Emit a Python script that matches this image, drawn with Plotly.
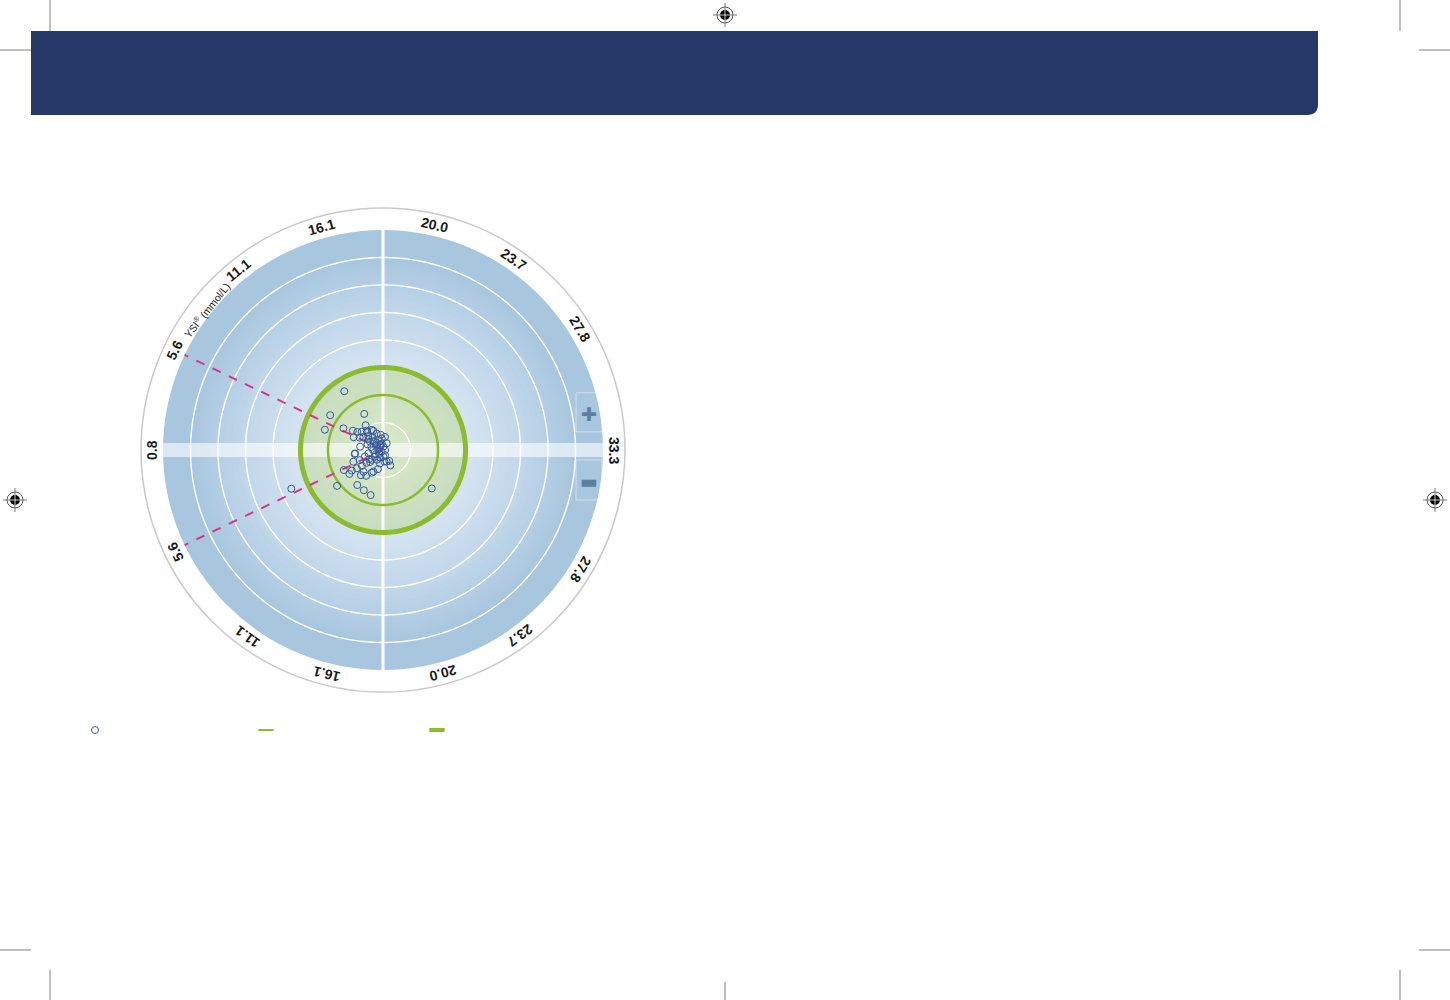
import numpy as np
import plotly.graph_objects as go

# dial labels (YSI reference, mmol/L) - upper half = positive bias, lower half = negative bias
upper_labels = ['0.8', '5.6', '11.1', '16.1', '20.0', '23.7', '27.8', '33.3']
upper_angles = [180, 154.4, 128.8, 105.4, 77, 55.7, 31.5, 0]
lower_labels = ['5.6', '11.1', '16.1', '20.0', '23.7', '27.8']
lower_angles = [-154, -126, -104, -75, -53.5, -31]

# rings (% bias)
white_rings = [5, 20, 25, 30, 35]
inner_limit = 10
outer_limit = 15
disc_edge = 40
hypo_angle = 154.4

# meter results: angle (deg) and radial bias (%)
pts_theta = [123.4, 146.6, 117.5, 160.8, 151.3, -157.1, -142, -126.3, -115.4, -105.3,
             -38.2, -172, -144.5, -152.9, -131.3, -123.2, -116.5, -105, -83.6, -60,
             -64.5, 96.6, 116.7, 131.6, 145, 156.4, 147.5, 139.3, 130.2, 119.5,
             110.7, 98.7, 146, 136.4, 129, 147.4, 134, 115, 101, 85,
             138, 0, -127, 171, -133, -140, -87, -138.5, -142, -143,
             -145, -146.5, -173, -158.5, -156.5, -72.5, -114, -132, 141.6, 180,
             81.4, 61, -68, -122, -102.7, -167, 171.8, 160, 150, -150,
             120, -110, 165, -160, 125, 143, -147, 137, -137, 152]
pts_r = [12.8, 11.5, 7.4, 11.2, 8.2, 18.1, 10.6, 7.9, 8.1, 8.5,
         11.3, 5.2, 7.5, 8.0, 6.1, 5.6, 4.6, 3.6, 2.1, 2.3,
         3.1, 2.1, 3.9, 4.3, 5.7, 5.8, 6.5, 5.1, 4.6, 4.2,
         3.2, 2.8, 4.3, 3.7, 3.0, 2.8, 2.1, 2.0, 1.2, 0.6,
         0.7, 0.4, 0.4, 0.9, 1.0, 1.9, 1.2, 2.7, 3.8, 4.8,
         5.8, 6.8, 5.1, 5.8, 4.6, 2.2, 4.3, 5.3, 1.5, 1.8,
         2.4, 1.4, 1.0, 2.1, 2.5, 2.7, 4.2, 3.0, 1.5, 1.5,
         1.0, 1.5, 2.2, 3.5, 5.5, 3.3, 3.0, 2.4, 3.2, 4.8]

W, H = 1450, 1000
GREEN = '#8cbb2e'
BLUE = '#34589e'


def px(x):
    return x / W


def py(y):
    return 1 - y / H


fig = go.Figure()

# radial blue gradient background: stacked discs, largest first so there are no seams
steps = np.arange(disc_edge, 0, -0.5)
stop_r = [0, 15, 25, 35, 40]
stop_c = np.array([[240, 246, 251], [214, 229, 241], [195, 216, 235], [168, 199, 223], [168, 199, 223]])
cols = []
for s in steps:
    c = [np.interp(s, stop_r, stop_c[:, k]) for k in range(3)]
    cols.append('rgb(%d,%d,%d)' % tuple(c))
fig.add_trace(go.Barpolar(theta=[0] * len(steps), r=steps, base=[0] * len(steps),
                          width=[360] * len(steps), marker=dict(color=cols, line=dict(width=0)),
                          hoverinfo='skip', showlegend=False))

# cross lines
fig.add_trace(go.Scatterpolar(r=[disc_edge, 0, disc_edge], theta=[90, 90, 270], mode='lines',
                              line=dict(color='white', width=3), hoverinfo='skip', showlegend=False))
fig.add_trace(go.Scatterpolar(r=[disc_edge, 0, disc_edge], theta=[180, 0, 0], mode='lines',
                              line=dict(color='rgba(255,255,255,0.6)', width=14), hoverinfo='skip',
                              showlegend=False))

# green zone fill
fig.add_trace(go.Barpolar(theta=[0], r=[outer_limit], base=[0], width=[360],
                          marker=dict(color='rgba(170,205,80,0.3)', line=dict(width=0)),
                          hoverinfo='skip', showlegend=False))

circle = np.arange(0, 361, 1)
for lv in white_rings:
    fig.add_trace(go.Scatterpolar(r=[lv] * len(circle), theta=circle, mode='lines',
                                  line=dict(color='white', width=1.4), hoverinfo='skip', showlegend=False))
fig.add_trace(go.Scatterpolar(r=[inner_limit] * len(circle), theta=circle, mode='lines',
                              line=dict(color=GREEN, width=2.5), hoverinfo='skip', showlegend=False))
fig.add_trace(go.Scatterpolar(r=[outer_limit] * len(circle), theta=circle, mode='lines',
                              line=dict(color=GREEN, width=5), hoverinfo='skip', showlegend=False))

# hypo threshold dashed lines
for a in [hypo_angle, -hypo_angle]:
    fig.add_trace(go.Scatterpolar(r=[0, disc_edge], theta=[a, a], mode='lines',
                                  line=dict(color='#d9338a', width=2, dash='dash'),
                                  hoverinfo='skip', showlegend=False))

# data points
fig.add_trace(go.Scatterpolar(r=pts_r, theta=pts_theta, mode='markers', name=' ',
                              marker=dict(symbol='circle-open', size=7, color=BLUE, line=dict(width=1))))

# legend-only entries for the limits
fig.add_trace(go.Scatterpolar(r=[None], theta=[None], mode='markers', name=' ',
                              marker=dict(symbol='line-ew', size=11, color=GREEN,
                                          line=dict(color=GREEN, width=2))))
fig.add_trace(go.Scatterpolar(r=[None], theta=[None], mode='markers', name=' ',
                              marker=dict(symbol='line-ew', size=11, color=GREEN,
                                          line=dict(color=GREEN, width=4))))

# dial labels as rotated annotations on a hidden cartesian overlay
annotations = []
lab_r = 42.0
for txt, a in list(zip(upper_labels, upper_angles)) + list(zip(lower_labels, lower_angles)):
    t = np.radians(a)
    ang = ((90 - a) + 180) % 360 - 180
    annotations.append(dict(x=lab_r * np.cos(t), y=lab_r * np.sin(t), xref='x', yref='y', text=txt,
                            showarrow=False, textangle=ang,
                            font=dict(family='Liberation Sans, Arial', size=14, color='#1a1a1a', weight='bold')))
t = np.radians(141.5)
annotations.append(dict(x=41.0 * np.cos(t), y=41.0 * np.sin(t), xref='x', yref='y',
                        text='YSI<sup>®</sup> (mmol/L)', showarrow=False, textangle=-51.5,
                        font=dict(family='Liberation Sans, Arial', size=10.5, color='#1a1a1a')))
annotations.append(dict(x=37.4, y=6.6, xref='x', yref='y', text='✚', showarrow=False,
                        font=dict(family='DejaVu Sans', size=19, color='#5b7f9c')))
annotations.append(dict(x=37.4, y=-5.6, xref='x', yref='y', text='▬', showarrow=False,
                        font=dict(family='DejaVu Sans', size=19, color='#5b7f9c')))

shapes = []
# faint boxes behind +/- signs
for y0, y1 in [(3.3, 10.4), (-9.1, -1.8)]:
    shapes.append(dict(type='rect', xref='x', yref='y', x0=35.1, x1=39.8, y0=y0, y1=y1,
                       line=dict(color='rgba(255,255,255,0.45)', width=1)))

# header bar with rounded bottom-right corner
x0, x1, yt, yb = px(31), px(1318), py(31), py(115)
rx, ry = 11 / W, 11 / H
shapes.append(dict(type='path', xref='paper', yref='paper', fillcolor='#253868', line=dict(width=0),
                   path=f'M {x0},{yt} L {x1},{yt} L {x1},{yb + ry} Q {x1},{yb} {x1 - rx},{yb} L {x0},{yb} Z'))

# crop marks
crop = [(50, 0, 50, 31), (0, 50, 31, 50), (1400, 0, 1400, 31), (1419, 50, 1450, 50),
        (0, 950, 31, 950), (50, 970, 50, 1000), (1419, 950, 1450, 950), (1400, 970, 1400, 1000),
        (725, 982, 725, 1000)]
for a, b, c, d in crop:
    shapes.append(dict(type='line', xref='paper', yref='paper', x0=px(a), y0=py(b), x1=px(c), y1=py(d),
                       line=dict(color='#aaaaaa', width=1.5)))

# registration marks
for cx, cy in [(725, 15), (15, 500), (1435, 500)]:
    shapes.append(dict(type='circle', xref='paper', yref='paper', x0=px(cx - 8), x1=px(cx + 8),
                       y0=py(cy - 8), y1=py(cy + 8), line=dict(color='#555555', width=1)))
    shapes.append(dict(type='line', xref='paper', yref='paper', x0=px(cx - 12), x1=px(cx + 12),
                       y0=py(cy), y1=py(cy), line=dict(color='#777777', width=1)))
    shapes.append(dict(type='line', xref='paper', yref='paper', x0=px(cx), x1=px(cx),
                       y0=py(cy - 12), y1=py(cy + 12), line=dict(color='#777777', width=1)))
    shapes.append(dict(type='circle', xref='paper', yref='paper', x0=px(cx - 5), x1=px(cx + 5),
                       y0=py(cy - 5), y1=py(cy + 5), fillcolor='black', line=dict(width=0)))
    shapes.append(dict(type='line', xref='paper', yref='paper', x0=px(cx - 5), x1=px(cx + 5),
                       y0=py(cy), y1=py(cy), line=dict(color='white', width=0.8)))
    shapes.append(dict(type='line', xref='paper', yref='paper', x0=px(cx), x1=px(cx),
                       y0=py(cy - 5), y1=py(cy + 5), line=dict(color='white', width=0.8)))

dom_x = [px(383 - 242), px(383 + 242)]
dom_y = [py(450 + 242), py(450 - 242)]

fig.update_layout(
    width=W, height=H, autosize=False,
    margin=dict(l=0, r=0, t=0, b=0),
    paper_bgcolor='white', plot_bgcolor='rgba(0,0,0,0)',
    polar=dict(domain=dict(x=dom_x, y=dom_y), bgcolor='white', barmode='overlay',
               radialaxis=dict(visible=False, range=[0, 44]),
               angularaxis=dict(showline=True, linecolor='#c9c9c9', linewidth=1.5, showgrid=False,
                                showticklabels=False, ticks='', rotation=0, direction='counterclockwise')),
    xaxis=dict(domain=dom_x, range=[-44, 44], visible=False, fixedrange=True),
    yaxis=dict(domain=dom_y, range=[-44, 44], visible=False, fixedrange=True),
    showlegend=True,
    legend=dict(orientation='h', x=px(75), y=py(730), xanchor='left', yanchor='middle',
                entrywidth=126, entrywidthmode='pixels', bgcolor='rgba(0,0,0,0)', font=dict(size=10)),
    annotations=annotations,
    shapes=shapes,
)

# page body margin off so the 1450x1000 figure fills the window exactly
fig.write_html("out.html", config={'displayModeBar': False},
               post_script="document.body.style.margin='0';")
